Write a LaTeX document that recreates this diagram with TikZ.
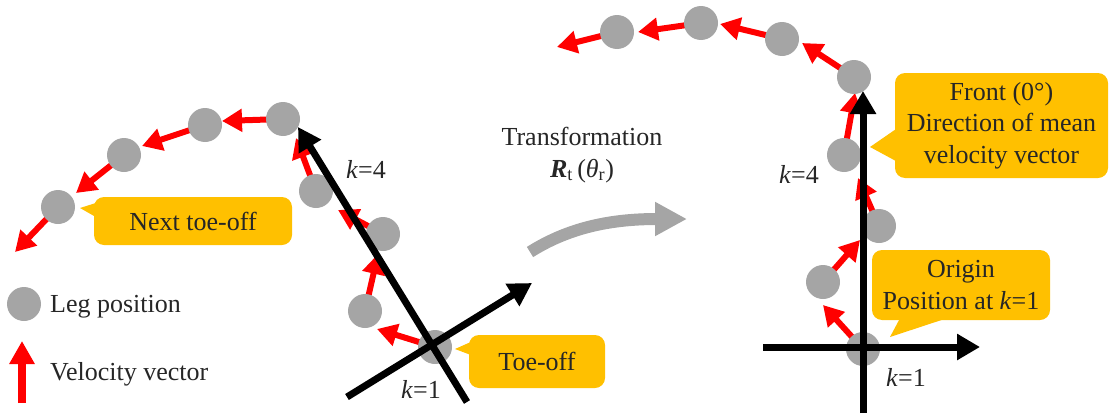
\documentclass[tikz,border=0pt]{standalone}
\usepackage{fontspec}
\setmainfont{Liberation Serif}
\usetikzlibrary{arrows.meta,calc}
\definecolor{gold}{HTML}{FFC000}
\definecolor{leg}{HTML}{A5A5A5}
\definecolor{txt}{HTML}{262626}
\pgfdeclarelayer{bg}
\pgfsetlayers{bg,main}
\begin{document}
\begin{tikzpicture}[x=1pt,y=-1pt,
  legpos/.style={circle,fill=leg,minimum size=34pt,inner sep=0pt},
  vel/.style={draw=red,line width=6pt,-{Triangle[length=20pt,width=22pt]}},
  axisarrow/.style={draw=black,line width=7pt,-{Triangle[length=23pt,width=25pt]}},
  axisline/.style={draw=black,line width=7pt},
  callout/.style={fill=gold,rounded corners=10pt,text=txt,align=center,inner sep=0pt},
  lbl/.style={text=txt,inner sep=0pt},
  font=\fontsize{26}{31.5}\selectfont]
\useasboundingbox (0,0) rectangle (1110,415);

% ---------- left: leg positions ----------
\node[legpos] (L1) at (435,347) {};
\node[legpos] (L2) at (365,311) {};
\node[legpos] (L3) at (383,234) {};
\node[legpos] (L4) at (316,191) {};
\node[legpos] (L5) at (283,119) {};
\node[legpos] (L6) at (205,125) {};
\node[legpos] (L7) at (124,155) {};
\node[legpos] (L8) at (58,207) {};
\coordinate (tL1) at (377,329);
\coordinate (tL2) at (378,254);
\coordinate (tL3) at (338,210);
\coordinate (tL4) at (296,138);
\coordinate (tL5) at (222,121);
\coordinate (tL6) at (142,146);
\coordinate (tL7) at (76,193);
\coordinate (tL8) at (15,252);

% ---------- right: leg positions ----------
\node[legpos] (R1) at (863,349) {};
\node[legpos] (R2) at (823,282) {};
\node[legpos] (R3) at (879,226) {};
\node[legpos] (R4) at (844,155) {};
\node[legpos] (R5) at (854,77) {};
\node[legpos] (R6) at (782,39) {};
\node[legpos] (R7) at (701,23) {};
\node[legpos] (R8) at (617,32) {};
\coordinate (tR1) at (823,305);
\coordinate (tR2) at (860,240);
\coordinate (tR3) at (858,178);
\coordinate (tR4) at (855,93);
\coordinate (tR5) at (802,43);
\coordinate (tR6) at (720,24);
\coordinate (tR7) at (638,32);
\coordinate (tR8) at (557,47);

\begin{pgfonlayer}{bg}
  \foreach \i in {1,...,8} {
    \draw[vel] (L\i.center) -- (tL\i);
    \draw[vel] (R\i.center) -- (tR\i);
  }
\end{pgfonlayer}

% ---------- axes ----------
\coordinate (la0) at (467,402);
\coordinate (la1) at (298,127);
\coordinate (lb0) at (347,397);
\coordinate (lb1) at (532,283);
\draw[axisarrow] (la0) -- (la1);
\draw[axisarrow] (lb0) -- (lb1);

\coordinate (ra0) at (863,413);
\coordinate (ra1) at (863,91);
\coordinate (rb0) at (763,347);
\coordinate (rb1) at (980,347);
\draw[axisarrow] (ra0) -- (ra1);
\draw[axisarrow] (rb0) -- (rb1);

% ---------- labels ----------
\node[lbl] (k4l) at (366,169) {\textit{k}=4};
\node[lbl] (k1l) at (421,389) {\textit{k}=1};
\node[lbl] (k4r) at (799,174) {\textit{k}=4};
\node[lbl] (k1r) at (906,377) {\textit{k}=1};

% ---------- callouts ----------
\node[callout,minimum width=198pt,minimum height=48pt] (nto) at (193,221) {Next toe-off};
\coordinate (ntoTip) at (80,208);
\fill[gold] ($(nto.west)+(2,-18)$) -- (ntoTip) -- ($(nto.west)+(2,-4)$) -- cycle;

\node[callout,minimum width=136pt,minimum height=53pt] (to) at (537,361.5) {Toe-off};
\coordinate (toTip) at (455,349);
\fill[gold] ($(to.west)+(2,-19.5)$) -- (toTip) -- ($(to.west)+(2,-6.5)$) -- cycle;

\node[callout,minimum width=213pt,minimum height=105pt] (front) at (1001.5,125.5) {Front (0°)\\Direction of mean\\velocity vector};
\coordinate (frontTip) at (870,147);
\fill[gold] ($(front.west)+(2,3)$) -- (frontTip) -- ($(front.west)+(2,36)$) -- cycle;

\node[callout,minimum width=178pt,minimum height=70pt] (orig) at (961,285) {Origin\\Position at \textit{k}=1};
\coordinate (origTip) at (890,337);
\fill[gold] ($(orig.south)+(-61,-2)$) -- (origTip) -- ($(orig.south)+(-14,-2)$) -- cycle;

% ---------- transformation ----------
\node[lbl,align=center] (trans) at (582,155) {Transformation\\{\bfseries\itshape R}\textsubscript{t}\,(\textit{θ}\textsubscript{r})};
\coordinate (tr0) at (530,252);
\coordinate (tr1) at (687,219);
\draw[leg,line width=12pt,-{Triangle[length=32pt,width=32pt]}] (tr0) .. controls (565,230) and (605,219) .. (tr1);

% ---------- legend ----------
\node[legpos] (lgc) at (24,304) {};
\node[lbl,anchor=west] (lgt1) at (50,307) {Leg position};
\coordinate (lgv0) at (22,403);
\coordinate (lgv1) at (22,341);
\draw[draw=red,line width=7.5pt,-{Triangle[length=23pt,width=24pt]}] (lgv0) -- (lgv1);
\node[lbl,anchor=west] (lgt2) at (50,374) {Velocity vector};
\end{tikzpicture}
\end{document}
